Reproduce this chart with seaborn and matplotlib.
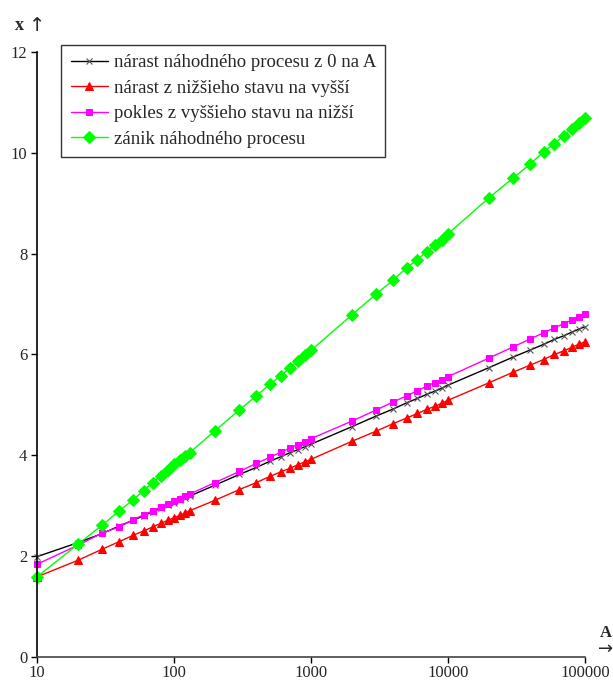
import pandas as pd
import seaborn as sns
import matplotlib.pyplot as plt

# hodnoty A (log os) a x pre styri krivky, odcitane z obrazku
A = [10, 20, 30, 40, 50, 60, 70, 80, 90, 100, 110, 120, 130,
     200, 300, 400, 500, 600, 700, 800, 900, 1000,
     2000, 3000, 4000, 5000, 6000, 7000, 8000, 9000, 10000,
     20000, 30000, 40000, 50000, 60000, 70000, 80000, 90000, 100000]

narast_0_A = [1.99, 2.27, 2.45, 2.60, 2.71, 2.80, 2.88, 2.95, 3.01, 3.06, 3.11, 3.15, 3.19,
              3.41, 3.62, 3.76, 3.88, 3.97, 4.05, 4.11, 4.17, 4.22,
              4.57, 4.78, 4.92, 5.04, 5.13, 5.21, 5.27, 5.33, 5.39,
              5.74, 5.95, 6.09, 6.20, 6.30, 6.37, 6.44, 6.50, 6.55]

narast_nizsi = [1.59, 1.92, 2.14, 2.29, 2.41, 2.50, 2.58, 2.65, 2.71, 2.76, 2.81, 2.85, 2.90,
                3.11, 3.32, 3.46, 3.58, 3.67, 3.74, 3.81, 3.87, 3.92,
                4.28, 4.48, 4.63, 4.74, 4.83, 4.91, 4.97, 5.03, 5.09,
                5.44, 5.65, 5.79, 5.90, 6.00, 6.07, 6.14, 6.20, 6.25]

pokles = [1.84, 2.22, 2.46, 2.58, 2.72, 2.82, 2.90, 2.97, 3.03, 3.09, 3.14, 3.19, 3.23,
          3.46, 3.68, 3.84, 3.96, 4.06, 4.14, 4.21, 4.27, 4.33,
          4.68, 4.90, 5.06, 5.18, 5.28, 5.37, 5.44, 5.50, 5.56,
          5.93, 6.15, 6.31, 6.43, 6.53, 6.61, 6.68, 6.75, 6.80]

zanik = [1.59, 2.24, 2.62, 2.90, 3.11, 3.30, 3.46, 3.59, 3.70, 3.82, 3.91, 3.99, 4.05,
         4.49, 4.90, 5.18, 5.41, 5.57, 5.73, 5.87, 5.98, 6.08,
         6.79, 7.20, 7.48, 7.72, 7.88, 8.04, 8.17, 8.27, 8.39,
         9.11, 9.50, 9.78, 10.02, 10.18, 10.34, 10.48, 10.60, 10.69]

labels = ["nárast náhodného procesu z 0 na A",
          "nárast z nižšieho stavu na vyšší",
          "pokles z vyššieho stavu na nižší",
          "zánik náhodného procesu"]

sns.set_style("white")
plt.rcParams['font.family'] = ['Liberation Serif', 'DejaVu Serif']

fig = plt.figure(figsize=(6.13, 6.84), dpi=100)
ax = fig.add_axes([0.0604, 0.0395, 0.8936, 0.8845])

sns.lineplot(ax=ax, x=A, y=narast_0_A, color="black", lw=1, marker="x",
             markersize=4, markeredgecolor="#555555", markeredgewidth=0.8,
             label=labels[0], clip_on=False)
sns.lineplot(ax=ax, x=A, y=narast_nizsi, color="#ff0000", lw=1, marker="^",
             markersize=6, markeredgecolor="#ff0000", label=labels[1], clip_on=False)
sns.lineplot(ax=ax, x=A, y=pokles, color="#ff00ff", lw=1, marker="s",
             markersize=5, markeredgecolor="#ff00ff", label=labels[2], clip_on=False)
sns.lineplot(ax=ax, x=A, y=zanik, color="#00ff00", lw=1, marker="D",
             markersize=6, markeredgecolor="#00ff00", label=labels[3], clip_on=False)

ax.set_xscale("log")
ax.set_xlim(10, 100000)
ax.set_ylim(0, 12)
ax.set_xticks([10, 100, 1000, 10000, 100000])
ax.set_xticklabels(["10", "100", "1000", "10000", "100000"])
ax.minorticks_off()
ax.set_yticks([0, 2, 4, 6, 8, 10, 12])
ax.tick_params(axis="both", direction="out", length=4, width=1, color="black",
               labelsize=12, pad=3, bottom=True, left=True)
ax.tick_params(axis="x", pad=2)

for s in ["top", "right"]:
    ax.spines[s].set_visible(False)
ax.spines["left"].set_color("black")
ax.spines["bottom"].set_color("#444444")
ax.spines["left"].set_linewidth(1.2)
ax.spines["bottom"].set_linewidth(1.2)
ax.set_xlabel("")
ax.set_ylabel("")

fig.text(0.025, 0.962, "x", fontsize=13, fontweight="bold", ha="left", va="center")
fig.text(0.048, 0.962, "\u2191", fontsize=14, ha="left", va="center",
         family=["DejaVu Sans"])
fig.text(0.988, 0.075, "A", fontsize=12, fontweight="bold", ha="center", va="center")
fig.text(0.988, 0.052, "\u2192", fontsize=13, ha="center", va="center",
         family=["DejaVu Sans"])

leg = ax.legend(loc="upper left", bbox_to_anchor=(0.044, 1.012), fontsize=13.5,
                frameon=True, fancybox=False, edgecolor="black",
                handlelength=2.0, labelspacing=0.45, borderpad=0.5,
                handletextpad=0.3, borderaxespad=0)
leg.get_frame().set_linewidth(1)

fig.savefig("out.png", dpi=100)
